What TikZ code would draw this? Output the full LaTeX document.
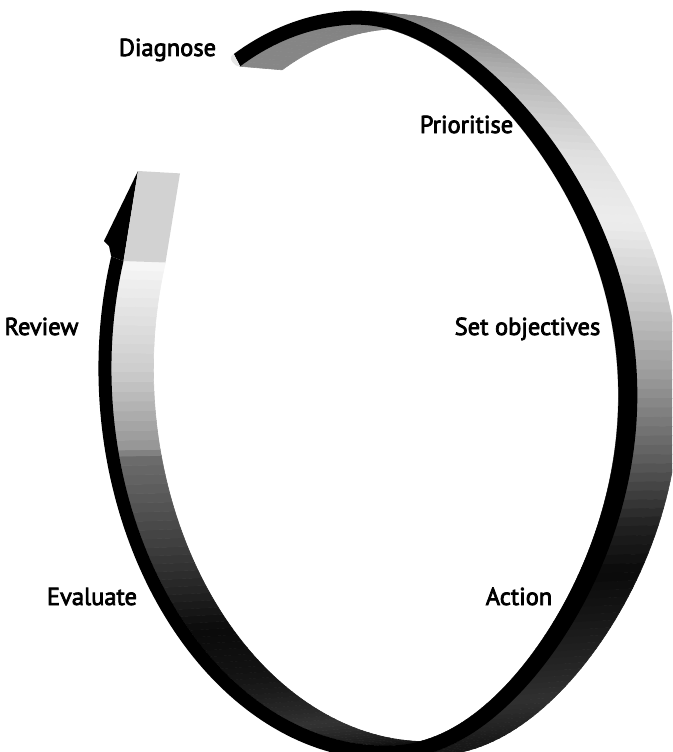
\documentclass[tikz,border=0pt]{standalone}
\usepackage{fontspec}
\newfontfamily\labfont{PT Sans}[FakeBold=3]
\usetikzlibrary{calc}
\definecolor{boxgray}{HTML}{D2D2D2}
\definecolor{capgray}{HTML}{E6E6E6}
\begin{document}
\begin{tikzpicture}[x=1pt,y=-1pt,
  declare function={
    Ao(\t)=ifthenelse(cos(\t)>0,264-40*sin(\t)^2,274);
    Ai(\t)=ifthenelse(cos(\t)>0,245-40*sin(\t)^2,261);
    exo(\t)=373+Ao(\t)*cos(\t)*cos(-4)-375*sin(\t)*sin(-4);
    eyo(\t)=385+Ao(\t)*cos(\t)*sin(-4)+375*sin(\t)*cos(-4);
    exi(\t)=373+Ai(\t)*cos(\t)*cos(-4)-361*sin(\t)*sin(-4);
    eyi(\t)=385+Ai(\t)*cos(\t)*sin(-4)+361*sin(\t)*cos(-4);
  },
  lab/.style={font=\labfont\fontsize{24.5}{26}\selectfont, inner sep=0pt, anchor=base, text=black}
]
\useasboundingbox (0,0) rectangle (672,752);
\clip (0,0) rectangle (672,752);
\def\knots{245/.53/280/.50, 280/.50/292/.55, 292/.55/310/.74, 310/.74/325/.88, 325/.88/337/.93, 337/.93/350/.78, 350/.78/362/.60, 362/.60/375/.35, 375/.35/385/.13, 385/.13/393/.04, 393/.04/405/.11, 405/.11/420/.19, 420/.19/435/.10, 435/.10/455/.07, 455/.07/472/.20, 472/.20/488/.08, 488/.08/500/.04, 500/.04/516/.24, 516/.24/531.5/.43, 531.5/.43/532.5/.58, 532.5/.58/545/.80, 545/.80/563/.97}
% inner surface of the band
\foreach \ta/\ga/\tb/\gb in \knots {
  \pgfmathtruncatemacro\n{max(1,round((\tb-\ta)/1.5))}
  \foreach \k in {1,...,\n} {
    \pgfmathsetmacro\tone{\ta+(\tb-\ta)*(\k-1)/\n}
    \pgfmathsetmacro\ttwo{\ta+(\tb-\ta)*\k/\n}
    \pgfmathsetmacro\g{100*(\ga+(\gb-\ga)*(\k-.5)/\n)}
    \filldraw[fill=white!\g!black,draw=white!\g!black,line width=.6pt]
      ({exi(\tone)},{eyi(\tone)}) -- ({exi(\ttwo)},{eyi(\ttwo)})
      -- ({exi(\ttwo)+42},{0.989*eyi(\ttwo)+4.29}) -- ({exi(\tone)+42},{0.989*eyi(\tone)+4.29}) -- cycle;
  }
}
% outer surface of the band (right-hand arc)
\foreach \ta/\ga/\tb/\gb in \knots {
  \pgfmathtruncatemacro\n{max(1,round((\tb-\ta)/1.5))}
  \foreach \k in {1,...,\n} {
    \pgfmathsetmacro\tone{\ta+(\tb-\ta)*(\k-1)/\n}
    \pgfmathsetmacro\ttwo{\ta+(\tb-\ta)*\k/\n}
    \pgfmathtruncatemacro\vis{((\tone+\ttwo)/2>276)*((\tone+\ttwo)/2<449)}
    \ifnum\vis=1
      \pgfmathsetmacro\g{100*(\ga+(\gb-\ga)*(\k-.5)/\n)}
      \filldraw[fill=white!\g!black,draw=white!\g!black,line width=.6pt]
        ({exo(\tone)},{eyo(\tone)}) -- ({exo(\ttwo)},{eyo(\ttwo)})
        -- ({exo(\ttwo)+42},{0.989*eyo(\ttwo)+4.29}) -- ({exo(\tone)+42},{0.989*eyo(\tone)+4.29}) -- cycle;
    \fi
  }
}
% black rim
\fill[black] plot[domain=245:563,samples=240] ({exo(\x)},{eyo(\x)})
  -- plot[domain=563:245,samples=240] ({exi(\x)},{eyi(\x)}) -- cycle;
% tail cap
\coordinate (so) at ({exo(245)},{eyo(245)});
\coordinate (si) at ({exi(245)},{eyi(245)});
\fill[capgray] (so) .. controls ($(so)+(-7,3)$) and ($(si)+(-6,1)$) .. (si) -- cycle;
% arrow head
\coordinate (eo) at ({exo(563)},{eyo(563)});
\coordinate (ei) at ({exi(563)},{eyi(563)});
\coordinate (eib) at ({exi(563)+42},{0.989*eyi(563)+4.29});
\coordinate (tip) at (138,171);
\coordinate (tipb) at (180,173.4);
\coordinate (barb) at (104,241);
\coordinate (notch) at (109,246);
\fill[black] (tip) -- (barb) -- (notch) -- (eo) -- (ei) -- cycle;
\fill[boxgray] (ei) -- (tip) -- (tipb) -- (eib) -- cycle;
% labels
\node[lab] (diag) at (167.5,56) {Diagnose};
\node[lab] (prio) at (466.5,133) {Prioritise};
\node[lab] (rev) at (41.5,335) {Review};
\node[lab] (setobj) at (527.5,335) {Set objectives};
\node[lab] (eval) at (92,605) {Evaluate};
\node[lab] (act) at (519,605) {Action};
\end{tikzpicture}
\end{document}
